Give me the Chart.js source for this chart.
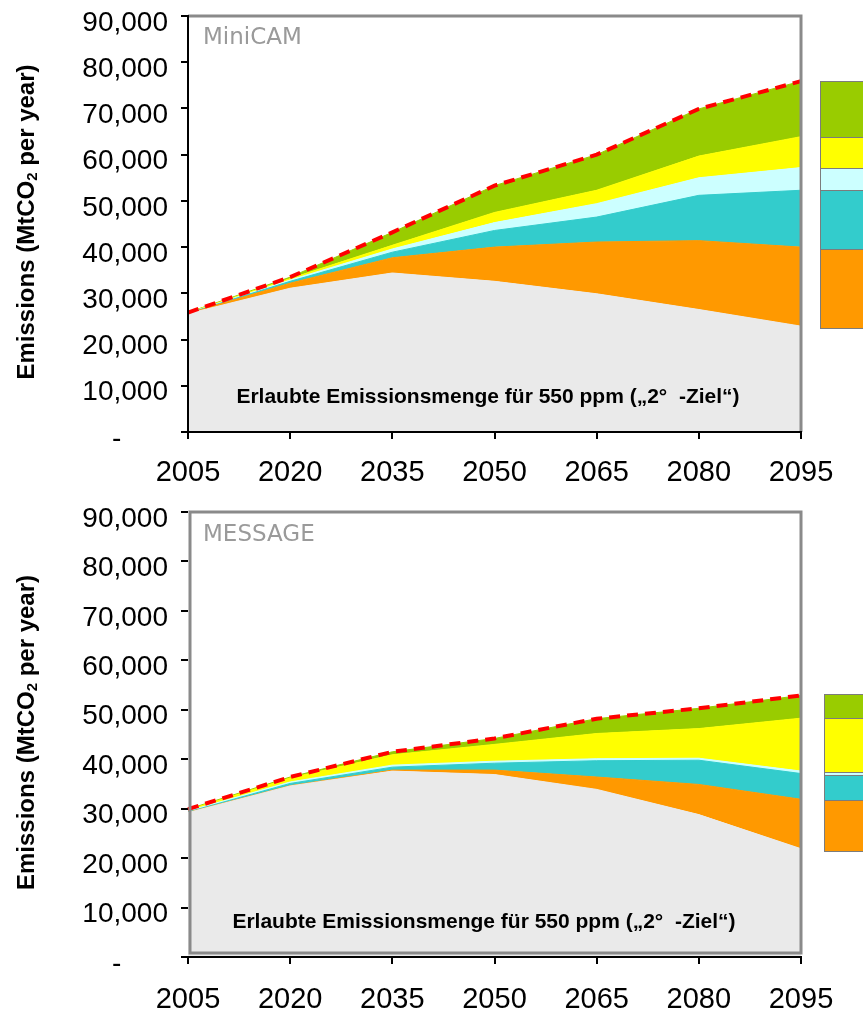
<!DOCTYPE html>
<html>
<head>
<meta charset="utf-8">
<script src="https://cdn.jsdelivr.net/npm/chart.js@4.4.1/dist/chart.umd.min.js"></script>
<style>
  html, body { margin: 0; padding: 0; background: #ffffff; }
  #wrap { position: relative; width: 863px; height: 1013px; overflow: hidden; background: #ffffff; }
  canvas { position: absolute; left: 0; }
</style>
</head>
<body>
<div id="wrap">
  <canvas id="miniCam" width="863" height="497" style="top:0px"></canvas>
  <canvas id="message" width="863" height="516" style="top:497px"></canvas>
</div>
<script>
// Years on the x axis
const years = ['2005', '2020', '2035', '2050', '2065', '2080', '2095'];

// Y axis tick labels, from 0 up to 90,000 in steps of 10,000 (accounting style dash for zero)
const yTickLabels = ['-      ', '10,000', '20,000', '30,000', '40,000', '50,000', '60,000', '70,000', '80,000', '90,000'];

// MiniCAM: upper edge of each stacked band (MtCO2 per year)
const miniAllowed   = [25600, 31100, 34400, 32600, 29900, 26500, 22900];
const miniOrange    = [25650, 32200, 37700, 40000, 41100, 41400, 40000];
const miniTeal      = [25700, 32600, 38900, 43600, 46500, 51200, 52300];
const miniLightCyan = [25750, 32900, 39600, 45300, 49400, 55000, 57200];
const miniYellow    = [25800, 33200, 40400, 47500, 52300, 59700, 63900];
const miniTotal     = [25850, 33500, 43200, 53300, 60000, 69900, 75900];

// MESSAGE: upper edge of each stacked band (MtCO2 per year)
const msgAllowed   = [29200, 34600, 37600, 36900, 33900, 28800, 21900];
const msgOrange    = [29250, 34650, 37800, 37800, 36400, 34900, 31900];
const msgTeal      = [29350, 35100, 38400, 39200, 39700, 39800, 37100];
const msgLightCyan = [29550, 35400, 38800, 39600, 40100, 40200, 37600];
const msgYellow    = [29750, 36200, 40900, 43000, 45200, 46200, 48300];
const msgTotal     = [29900, 36400, 41500, 44200, 48200, 50300, 52900];

const COLORS = {
  allowed: '#eaeaea',
  orange: '#ff9900',
  teal: '#33cccc',
  lightCyan: '#ccffff',
  yellow: '#ffff00',
  green: '#99cc00',
  red: '#ff0000',
  frame: '#8a8a8a',
  modelName: '#9a9a9a'
};

const AXIS_FONT = "'Liberation Sans', Arial, sans-serif";

// Grey frame around the plot area
const plotFrame = {
  id: 'plotFrame',
  afterDatasetsDraw(chart, args, opts) {
    const { ctx, chartArea: a } = chart;
    ctx.save();
    ctx.strokeStyle = COLORS.frame;
    ctx.lineWidth = 3;
    ctx.beginPath();
    if (opts.full) {
      ctx.rect(a.left + 2, a.top, a.right - a.left - 2, a.bottom - a.top - 4);
    } else {
      ctx.moveTo(a.left, a.top);
      ctx.lineTo(a.right, a.top);
      ctx.lineTo(a.right, a.bottom);
    }
    ctx.stroke();
    ctx.restore();
  }
};

// Colour swatches of the legend at the right edge
const legendSwatches = {
  id: 'legendSwatches',
  afterDraw(chart, args, opts) {
    const { ctx } = chart;
    ctx.save();
    opts.items.forEach(it => {
      ctx.fillStyle = it.color;
      ctx.fillRect(opts.x, it.top, 80, it.bottom - it.top);
      ctx.strokeStyle = '#7c7c7c';
      ctx.lineWidth = 1;
      ctx.strokeRect(opts.x + 0.5, it.top + 0.5, 80, it.bottom - it.top);
    });
    ctx.restore();
  }
};

// Axis title, model name and the note inside the plot
const chartTexts = {
  id: 'chartTexts',
  afterDraw(chart, args, opts) {
    const { ctx, chartArea: a } = chart;
    ctx.save();

    // rotated y-axis title with subscript 2
    const cy = (a.top + a.bottom) / 2 - 2;
    ctx.translate(27, cy);
    ctx.rotate(-Math.PI / 2);
    ctx.fillStyle = '#000';
    ctx.textBaseline = 'middle';
    const big = "bold 24px " + AXIS_FONT;
    const small = "bold 15px " + AXIS_FONT;
    const p1 = 'Emissions (MtCO', p2 = '2', p3 = ' per year)';
    ctx.font = big; const w1 = ctx.measureText(p1).width; const w3 = ctx.measureText(p3).width;
    ctx.font = small; const w2 = ctx.measureText(p2).width;
    let x = -(w1 + w2 + w3) / 2;
    ctx.font = big; ctx.textAlign = 'left';
    ctx.fillText(p1, x, 0); x += w1;
    ctx.font = small; ctx.fillText(p2, x, 6); x += w2;
    ctx.font = big; ctx.fillText(p3, x, 0);
    ctx.setTransform(1, 0, 0, 1, 0, 0);

    // model name
    ctx.font = "23px 'DejaVu Sans', Verdana, sans-serif";
    ctx.fillStyle = COLORS.modelName;
    ctx.textAlign = 'left';
    ctx.textBaseline = 'middle';
    ctx.fillText(opts.name, a.left + 15, a.top + opts.nameDy);

    // note on the allowed emissions
    ctx.font = "bold 21px " + AXIS_FONT;
    ctx.fillStyle = '#000';
    ctx.textAlign = 'center';
    ctx.fillText('Erlaubte Emissionsmenge für 550 ppm („2°  -Ziel“)', a.left + opts.noteDx, a.bottom - 35);
    ctx.restore();
  }
};

function band(label, data, color) {
  return {
    label, data,
    backgroundColor: color,
    borderColor: color,
    borderWidth: 1,
    pointRadius: 0,
    tension: 0,
    fill: '-1',
    order: 1
  };
}

function buildChart(id, cfg) {
  const s = cfg.series;
  const datasets = [
    Object.assign(band('Erlaubte Emissionsmenge', s.allowed, COLORS.allowed), { fill: 'origin' }),
    band('Band orange', s.orange, COLORS.orange),
    band('Band türkis', s.teal, COLORS.teal),
    band('Band hellblau', s.lightCyan, COLORS.lightCyan),
    band('Band gelb', s.yellow, COLORS.yellow),
    band('Band grün', s.total, COLORS.green),
    {
      label: 'Gesamt',
      data: s.total,
      borderColor: COLORS.red,
      borderWidth: 4,
      borderDash: [11, 7],
      pointRadius: 0,
      tension: 0,
      fill: false,
      order: 0
    }
  ];

  return new Chart(document.getElementById(id), {
    type: 'line',
    data: { labels: years, datasets },
    plugins: [plotFrame, legendSwatches, chartTexts],
    options: {
      responsive: false,
      animation: false,
      devicePixelRatio: 1,
      layout: { padding: { top: cfg.padTop, right: 62, left: 0, bottom: 0 } },
      plugins: {
        legend: { display: false },
        tooltip: { enabled: false },
        plotFrame: { full: cfg.fullFrame },
        legendSwatches: { x: cfg.legendX, items: cfg.legendItems },
        chartTexts: { name: cfg.name, nameDy: cfg.nameDy, noteDx: cfg.noteDx }
      },
      scales: {
        x: {
          type: 'category',
          offset: false,
          grid: { display: true, drawOnChartArea: false, drawTicks: true, tickLength: 7, color: '#000', lineWidth: 2 },
          border: { display: true, color: '#000', width: 2, z: 1 },
          ticks: {
            color: '#000', padding: cfg.xPad, maxRotation: 0, autoSkip: false,
            font: { family: AXIS_FONT, size: 29 }
          },
          afterFit(scale) {
            scale.height = cfg.xHeight;
            scale.paddingLeft = 0; scale.paddingRight = 0;
          }
        },
        y: {
          min: 0, max: 90000,
          grid: { display: true, drawOnChartArea: false, drawTicks: true, tickLength: 7, color: '#000', lineWidth: 2 },
          border: { display: cfg.yBorder, color: '#000', width: 2, z: 1 },
          ticks: {
            stepSize: 10000, color: '#000', padding: 13, labelOffset: 7,
            font: { family: AXIS_FONT, size: 28 },
            callback: (v, i) => yTickLabels[i]
          },
          afterFit(scale) {
            scale.width = 188;
            scale.paddingTop = 0; scale.paddingBottom = 0;
          }
        }
      }
    }
  });
}

buildChart('miniCam', {
  name: 'MiniCAM', nameDy: 22, noteDx: 300, xPad: 17,
  padTop: 16, xHeight: 65, fullFrame: false, yBorder: true,
  series: { allowed: miniAllowed, orange: miniOrange, teal: miniTeal, lightCyan: miniLightCyan, yellow: miniYellow, total: miniTotal },
  legendX: 820,
  legendItems: [
    { color: COLORS.green, top: 81, bottom: 137 },
    { color: COLORS.yellow, top: 137, bottom: 168 },
    { color: COLORS.lightCyan, top: 168, bottom: 190 },
    { color: COLORS.teal, top: 190, bottom: 249 },
    { color: COLORS.orange, top: 249, bottom: 328 }
  ]
});

buildChart('message', {
  name: 'MESSAGE', nameDy: 23, noteDx: 296, xPad: 19,
  padTop: 15, xHeight: 56, fullFrame: true, yBorder: false,
  series: { allowed: msgAllowed, orange: msgOrange, teal: msgTeal, lightCyan: msgLightCyan, yellow: msgYellow, total: msgTotal },
  legendX: 824,
  legendItems: [
    { color: COLORS.green, top: 197, bottom: 221 },
    { color: COLORS.yellow, top: 221, bottom: 275 },
    { color: COLORS.lightCyan, top: 275, bottom: 278 },
    { color: COLORS.teal, top: 278, bottom: 303 },
    { color: COLORS.orange, top: 303, bottom: 354 }
  ]
});
</script>
</body>
</html>
